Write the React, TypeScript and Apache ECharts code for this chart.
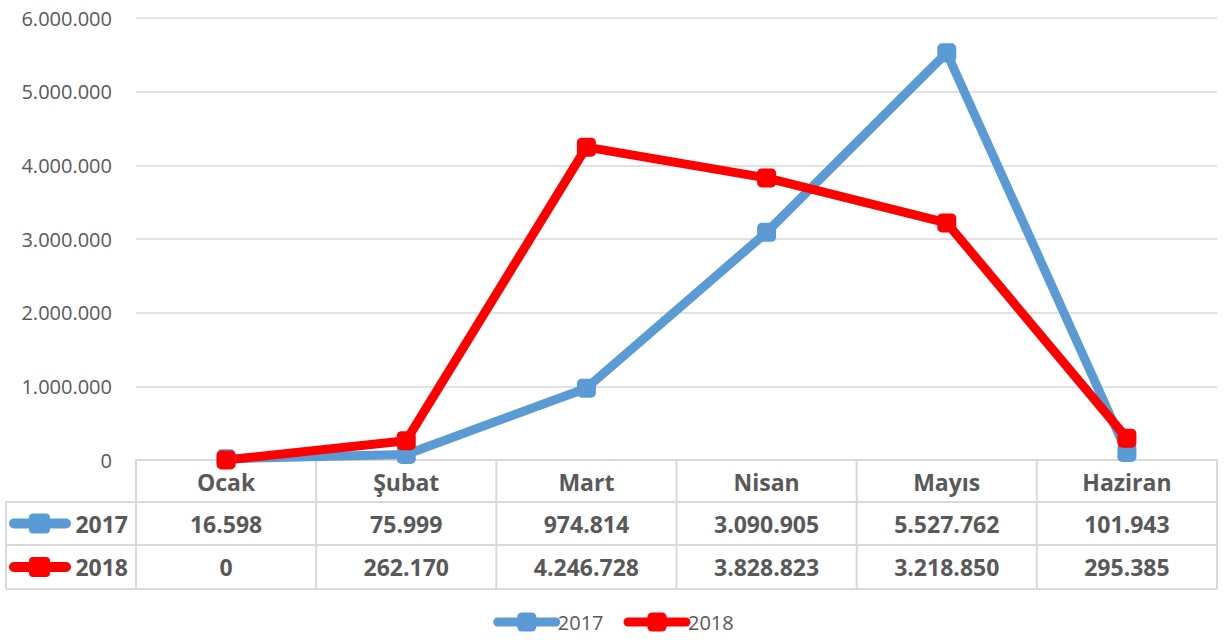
import React, { useEffect, useRef } from "react";
import * as echarts from "echarts";

const categories = ["Ocak", "Şubat", "Mart", "Nisan", "Mayıs", "Haziran"];
const seriesNames = ["2017", "2018"];
const values2017 = [16598, 75999, 974814, 3090905, 5527762, 101943];
const values2018 = [0, 262170, 4246728, 3828823, 3218850, 295385];
const seriesColors = ["#5B9BD5", "#FF0000"];
const yMin = 0;
const yMax = 6000000;
const yInterval = 1000000;

const W = 1227;
const H = 640;
const GRID_LEFT = 136;
const GRID_RIGHT = 10;
const GRID_TOP = 18;
const GRID_BOTTOM = 180;
const TABLE_LEFT = 6;
const ROW_LINES = [460, 502, 545, 589];
const TEXT = "#595959";
const BORDER = "#D9D9D9";
const FONT = '"Open Sans", "Noto Sans", sans-serif';

const fmt = (n: number) =>
  String(Math.round(n)).replace(/\B(?=(\d{3})+(?!\d))/g, ".");

export default function App() {
  const ref = useRef<HTMLDivElement>(null);
  useEffect(() => {
    if (!ref.current) return;
    const chart = echarts.init(ref.current, undefined, { renderer: "svg" });
    const right = W - GRID_RIGHT;
    const colW = (right - GRID_LEFT) / categories.length;
    const rows = [values2017, values2018];

    const graphics: any[] = [];
    for (let i = 0; i <= categories.length; i++) {
      const x = GRID_LEFT + i * colW;
      graphics.push({
        type: "line",
        shape: { x1: x, y1: ROW_LINES[0], x2: x, y2: ROW_LINES[3] },
        style: { stroke: BORDER, lineWidth: 2 },
        silent: true,
      });
    }
    graphics.push({
      type: "line",
      shape: { x1: TABLE_LEFT, y1: ROW_LINES[1], x2: TABLE_LEFT, y2: ROW_LINES[3] },
      style: { stroke: BORDER, lineWidth: 2 },
      silent: true,
    });
    for (let r = 1; r < ROW_LINES.length; r++) {
      graphics.push({
        type: "line",
        shape: { x1: TABLE_LEFT, y1: ROW_LINES[r], x2: right, y2: ROW_LINES[r] },
        style: { stroke: BORDER, lineWidth: 2 },
        silent: true,
      });
    }
    categories.forEach((c, i) => {
      graphics.push({
        type: "text",
        x: GRID_LEFT + (i + 0.5) * colW,
        y: (ROW_LINES[0] + ROW_LINES[1]) / 2 + 1,
        style: {
          text: c,
          fill: TEXT,
          font: `bold 23px ${FONT}`,
          align: "center",
          verticalAlign: "middle",
        },
        silent: true,
      });
    });
    rows.forEach((vals, r) => {
      const yc = (ROW_LINES[r + 1] + ROW_LINES[r + 2]) / 2;
      graphics.push({
        type: "line",
        shape: { x1: 14, y1: yc, x2: 66, y2: yc },
        style: { stroke: seriesColors[r], lineWidth: 10, lineCap: "round" },
        silent: true,
      });
      graphics.push({
        type: "rect",
        shape: { x: 29, y: yc - 10, width: 21, height: 20, r: 4 },
        style: { fill: seriesColors[r] },
        silent: true,
      });
      graphics.push({
        type: "text",
        x: 128,
        y: yc,
        style: {
          text: seriesNames[r],
          fill: TEXT,
          font: `bold 23px ${FONT}`,
          align: "right",
          verticalAlign: "middle",
        },
        silent: true,
      });
      vals.forEach((v, i) => {
        graphics.push({
          type: "text",
          x: GRID_LEFT + (i + 0.5) * colW,
          y: yc,
          style: {
            text: fmt(v),
            fill: TEXT,
            font: `bold 23px ${FONT}`,
            align: "center",
            verticalAlign: "middle",
          },
          silent: true,
        });
      });
    });

    const mkSeries = (name: string, data: number[], color: string) => ({
      name,
      type: "line",
      data,
      symbol: "roundRect",
      symbolSize: 19,
      itemStyle: { color },
      lineStyle: { color, width: 9, cap: "round", join: "round" },
      emphasis: { disabled: true },
    });

    chart.setOption({
      animation: false,
      textStyle: { fontFamily: FONT },
      grid: {
        left: GRID_LEFT,
        right: GRID_RIGHT,
        top: GRID_TOP,
        bottom: GRID_BOTTOM,
        containLabel: false,
      },
      xAxis: {
        type: "category",
        data: categories,
        boundaryGap: true,
        axisLine: { show: true, lineStyle: { color: BORDER, width: 2 } },
        axisTick: { show: false },
        axisLabel: { show: false },
        splitLine: { show: false },
      },
      yAxis: {
        type: "value",
        min: yMin,
        max: yMax,
        interval: yInterval,
        axisLine: { show: false },
        axisTick: { show: false },
        splitLine: { show: true, lineStyle: { color: BORDER, width: 1.5 } },
        axisLabel: {
          color: TEXT,
          fontSize: 20,
          fontFamily: FONT,
          margin: 24,
          formatter: (v: number) => fmt(v),
        },
      },
      legend: {
        data: seriesNames,
        bottom: 3,
        left: "center",
        itemWidth: 58,
        itemHeight: 24,
        itemGap: 20,
        lineStyle: { width: 9, cap: "round" },
        itemStyle: { borderWidth: 0 },
        textStyle: { color: TEXT, fontSize: 20, fontFamily: FONT, padding: [0, 0, 0, -3] },
      },
      graphic: graphics,
      series: [
        mkSeries(seriesNames[0], values2017, seriesColors[0]),
        mkSeries(seriesNames[1], values2018, seriesColors[1]),
      ],
    });
    return () => chart.dispose();
  }, []);
  return (
    <div
      ref={ref}
      style={{ position: "fixed", left: 0, top: 0, width: W, height: H, background: "#fff" }}
    />
  );
}
